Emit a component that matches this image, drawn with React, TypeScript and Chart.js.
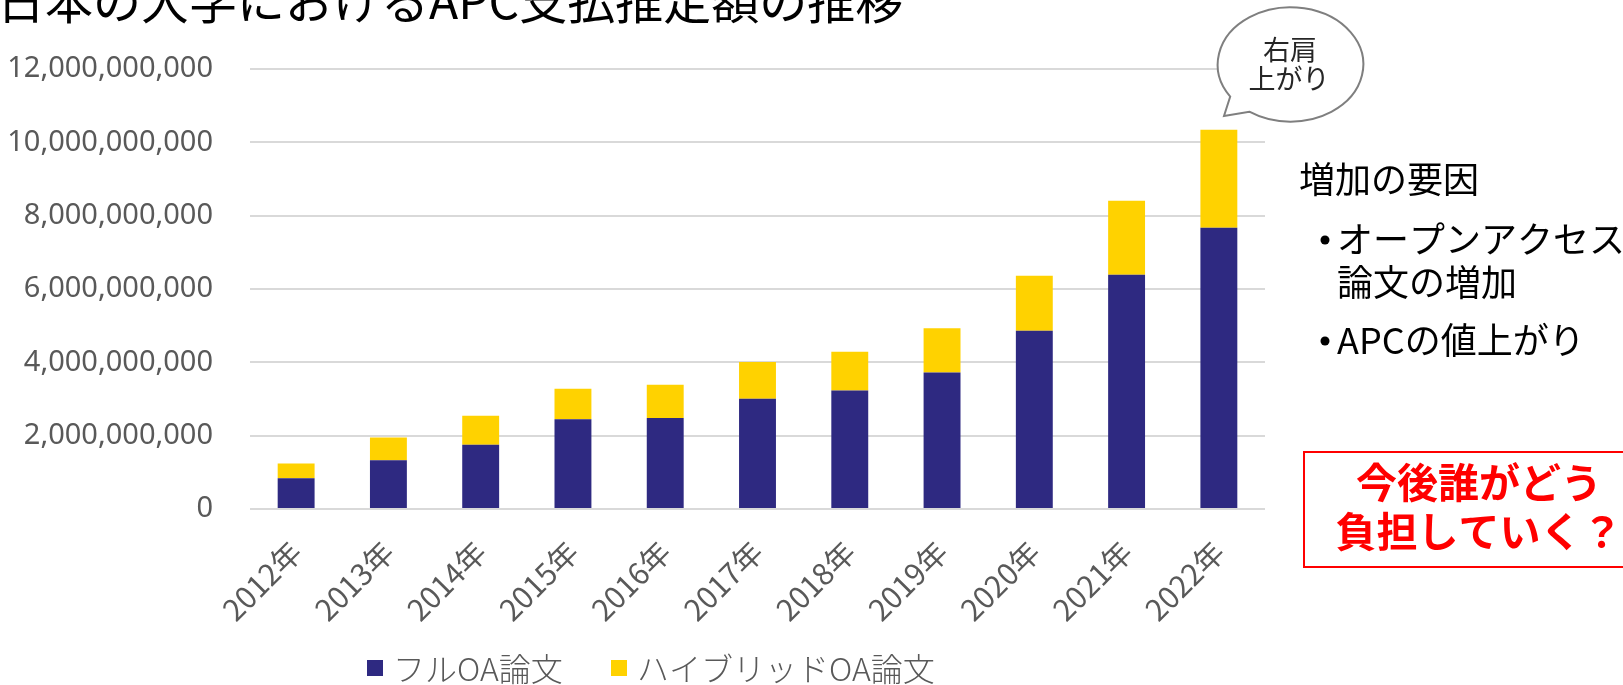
import React, { useEffect, useRef } from "react";
import { Chart, registerables } from "chart.js";

Chart.register(...registerables);

// ---- data ----
const categories = [
  "2012年", "2013年", "2014年", "2015年", "2016年", "2017年",
  "2018年", "2019年", "2020年", "2021年", "2022年",
];
const fullOA = [
  0.84e9, 1.33e9, 1.75e9, 2.45e9, 2.48e9, 3.01e9,
  3.23e9, 3.72e9, 4.86e9, 6.39e9, 7.67e9,
];
const hybridOA = [
  0.40e9, 0.62e9, 0.79e9, 0.83e9, 0.91e9, 1.00e9,
  1.06e9, 1.21e9, 1.50e9, 2.02e9, 2.67e9,
];
const seriesLabels = ["フルOA論文", "ハイブリッドOA論文"];
const seriesColors = ["#2E2981", "#FFD200"];
const yMin = 0;
const yMax = 12e9;
const yStep = 2e9;

const titleText = "日本の大学におけるAPC支払推定額の推移";
const bubbleLines = ["右肩", "上がり"];
const factorHeading = "増加の要因";
const factorBullets = [["オープンアクセス", "論文の増加"], ["APCの値上がり"]];
const questionLines = ["今後誰がどう", "負担していく？"];

const CJK = '"Noto Sans CJK JP", "Noto Sans", sans-serif';
const LATIN = '"Noto Sans", "Noto Sans CJK JP", sans-serif';

const annotationsPlugin = {
  id: "annotations",
  afterDraw(chart: any) {
    const ctx: CanvasRenderingContext2D = chart.ctx;
    ctx.save();

    // Title (partly cut at the top, as in the reference)
    ctx.fillStyle = "#000000";
    ctx.font = `48px ${CJK}`;
    ctx.textAlign = "left";
    ctx.textBaseline = "alphabetic";
    ctx.fillText(titleText, -3, 19);

    // Legend
    const legendY = 668;
    const items = [
      { x: 367, label: seriesLabels[0], color: seriesColors[0] },
      { x: 611, label: seriesLabels[1], color: seriesColors[1] },
    ];
    ctx.font = `300 32px ${CJK}`;
    ctx.textBaseline = "middle";
    for (const it of items) {
      ctx.fillStyle = it.color;
      ctx.fillRect(it.x, legendY - 8, 16, 16);
      ctx.fillStyle = "#595959";
      ctx.fillText(it.label, it.x + 26, legendY + 1);
    }

    // Speech bubble
    const cx = 1290.5, cy = 64.5, rx = 72.8, ry = 57.2;
    const a1 = Math.atan2((96.7 - cy) / ry, (1230 - cx) / rx);
    const a2 = Math.atan2((111.7 - cy) / ry, (1249.3 - cx) / rx);
    ctx.beginPath();
    ctx.ellipse(cx, cy, rx, ry, 0, a1, a2 + Math.PI * 2, false);
    ctx.lineTo(1224, 116);
    ctx.closePath();
    ctx.fillStyle = "#FFFFFF";
    ctx.fill();
    ctx.lineWidth = 2;
    ctx.strokeStyle = "#7F7F7F";
    ctx.stroke();
    ctx.fillStyle = "#262626";
    ctx.font = `27px ${CJK}`;
    ctx.textAlign = "center";
    ctx.fillText(bubbleLines[0], 1290, 50);
    ctx.fillText(bubbleLines[1], 1289, 79);

    // Factors text
    ctx.fillStyle = "#000000";
    ctx.textAlign = "left";
    ctx.font = `36px ${CJK}`;
    ctx.fillText(factorHeading, 1299, 179);
    const bulletTops = [239, 340];
    factorBullets.forEach((lines, bi) => {
      const y = bulletTops[bi];
      ctx.beginPath();
      ctx.arc(1325, y + 1, 4.5, 0, Math.PI * 2);
      ctx.fill();
      lines.forEach((ln, i) => {
        ctx.fillText(ln, 1337, y + i * 43);
      });
    });

    // Red question box
    ctx.strokeStyle = "#FF0000";
    ctx.lineWidth = 2;
    ctx.strokeRect(1304, 452, 360, 115);
    ctx.fillStyle = "#FF0000";
    ctx.font = `bold 41px ${CJK}`;
    ctx.textAlign = "center";
    ctx.fillText(questionLines[0], 1479, 482);
    ctx.fillText(questionLines[1], 1479, 531);

    ctx.restore();
  },
};

export default function App() {
  const canvasRef = useRef<HTMLCanvasElement | null>(null);

  useEffect(() => {
    document.body.style.margin = "0";
    const canvas = canvasRef.current;
    if (!canvas) return;
    const chart = new Chart(canvas, {
      type: "bar",
      data: {
        labels: categories,
        datasets: [
          {
            label: seriesLabels[0],
            data: fullOA,
            backgroundColor: seriesColors[0],
            barPercentage: 0.4,
            categoryPercentage: 1,
          },
          {
            label: seriesLabels[1],
            data: hybridOA,
            backgroundColor: seriesColors[1],
            barPercentage: 0.4,
            categoryPercentage: 1,
          },
        ],
      },
      options: {
        responsive: false,
        animation: false,
        devicePixelRatio: 1,
        layout: { padding: { top: 69, right: 358, bottom: 0, left: 0 } },
        plugins: {
          legend: { display: false },
          title: { display: false },
          tooltip: { enabled: false },
        },
        scales: {
          x: {
            stacked: true,
            grid: { display: false, drawTicks: false },
            border: { display: false },
            ticks: {
              color: "#595959",
              font: { family: CJK, size: 30 },
              minRotation: 45,
              maxRotation: 45,
              padding: 25,
              autoSkip: false,
            },
            afterFit: (scale: any) => {
              scale.height = 176;
            },
          },
          y: {
            stacked: true,
            min: yMin,
            max: yMax,
            grid: { color: "#D9D9D9", lineWidth: 2, drawTicks: false },
            border: { display: false },
            ticks: {
              stepSize: yStep,
              color: "#595959",
              font: { family: LATIN, size: 29 },
              padding: 37,
              callback: (v: any) => Number(v).toLocaleString("en-US"),
            },
            afterFit: (scale: any) => {
              scale.width = 250;
            },
          },
        },
      },
      plugins: [annotationsPlugin],
    });
    return () => chart.destroy();
  }, []);

  return (
    <div style={{ position: "absolute", left: 0, top: 0, width: 1623, height: 685 }}>
      <canvas ref={canvasRef} width={1623} height={685} style={{ display: "block" }} />
    </div>
  );
}
